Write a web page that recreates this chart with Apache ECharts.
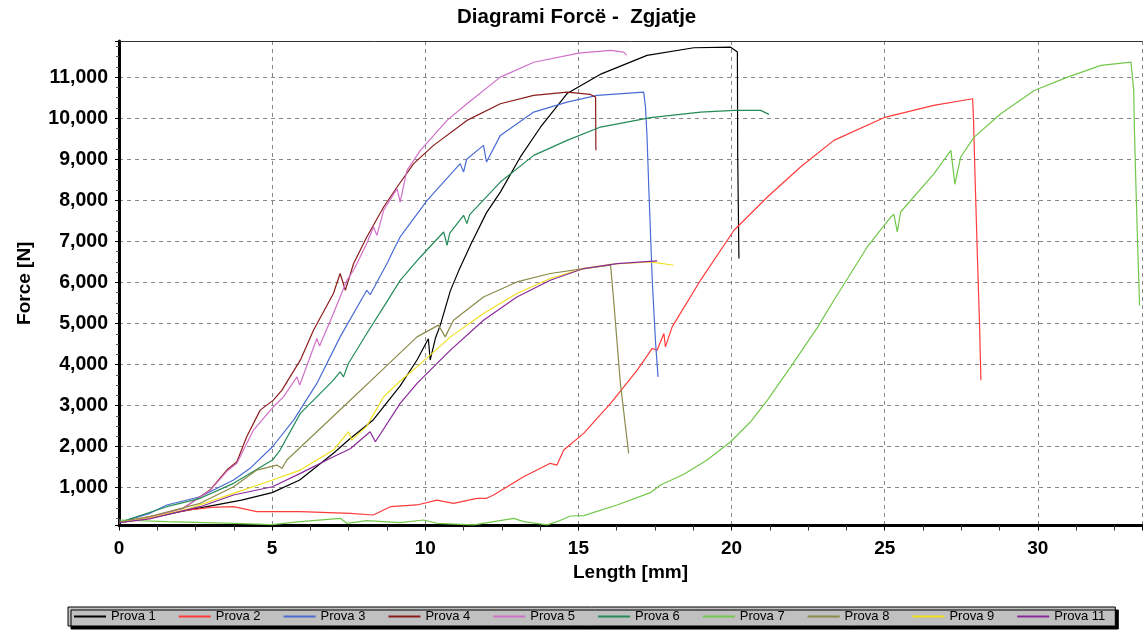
<!DOCTYPE html>
<html><head><meta charset="utf-8">
<script src="https://cdn.jsdelivr.net/npm/echarts@6/dist/echarts.min.js"></script>
<style>html,body{margin:0;padding:0;background:#fff}#c{width:1143px;height:631px}</style>
</head><body><div id="c"></div>
<script>
const seriesNames = ['Prova 1','Prova 2','Prova 3','Prova 4','Prova 5','Prova 6','Prova 7','Prova 8','Prova 9','Prova 11'];
const seriesColors = ['#000000','#ff3b3b','#4a6cd4','#8b1c1c','#d070c8','#238b57','#72c84a','#8b8b4a','#f0e020','#8a2a9a'];

const prova1 = [[0,150],[1,260],[2,420],[3,560],[4,700],[5,880],[5.9,1190],[7.0,1840],[7.55,2200],[8.3,2650],[9.18,3480],[9.73,4110],[10.1,4630],[10.16,4110],[10.33,4640],[10.49,4960],[10.82,5800],[11.1,6300],[11.5,6950],[12.0,7700],[12.45,8200],[13.1,9050],[13.76,9780],[14.63,10600],[15.75,11080],[17.24,11530],[18.77,11715],[19.97,11730],[20.19,11610],[20.2,9100],[20.24,6580]];
const prova2 = [[0,150],[1,295],[2.3,457],[3.0,520],[3.74,540],[4.5,420],[5.92,416],[7.55,377],[8.3,336],[8.86,538],[9.73,580],[10.38,700],[10.92,620],[11.69,742],[12.0,742],[12.05,700],[12.23,822],[13.21,1268],[14.08,1594],[14.3,1552],[14.52,1917],[15.17,2323],[16.05,3054],[16.92,3864],[17.41,4392],[17.57,4350],[17.79,4757],[17.84,4430],[18.06,4917],[19.0,6070],[20.08,7270],[21.17,8080],[22.25,8810],[23.34,9460],[24.97,10012],[26.6,10311],[27.87,10474],[27.9,9946],[27.94,8810],[28.03,6540],[28.1,4878],[28.14,3620]];
const prova3 = [[0,150],[1.01,377],[1.56,580],[2.65,781],[3.74,1187],[4.28,1472],[5.01,1998],[5.7,2647],[6.46,3540],[7.22,4674],[8.09,5810],[8.2,5700],[8.75,6460],[8.96,6783],[9.18,7107],[10.06,8000],[11.14,8893],[11.25,8689],[11.35,9000],[11.9,9338],[12.0,8932],[12.45,9581],[13.54,10148],[14.63,10392],[15.61,10555],[17.13,10635],[17.19,10270],[17.24,9540],[17.3,8243],[17.41,6053],[17.52,4513],[17.6,3700]];
const prova4 = [[0,150],[1,280],[2.1,500],[2.97,944],[3.52,1430],[3.85,1633],[4.17,2241],[4.61,2890],[5.04,3134],[5.32,3377],[5.92,4107],[6.35,4837],[7.0,5730],[7.22,6217],[7.39,5810],[7.66,6460],[8.09,7107],[8.64,7837],[9.08,8324],[9.62,8893],[10.27,9338],[11.36,9946],[12.45,10352],[13.54,10555],[14.63,10635],[15.39,10579],[15.56,10513],[15.57,9217]];
const prova5 = [[0,150],[1,270],[2.1,500],[2.97,930],[3.52,1400],[3.85,1594],[4.39,2404],[5.04,2971],[5.37,3214],[5.81,3700],[5.9,3500],[6.46,4635],[6.55,4450],[7.0,5243],[7.44,6053],[7.66,6297],[8.09,6946],[8.31,7350],[8.42,7148],[8.64,7757],[9.08,8284],[9.18,7958],[9.4,8730],[9.84,9217],[10.71,9946],[11.36,10352],[12.45,11000],[13.54,11362],[15.01,11584],[16.05,11650],[16.48,11610],[16.57,11529]];
const prova6 = [[0,150],[1.56,538],[2.65,742],[3.74,1107],[5.01,1674],[5.26,1917],[5.92,2810],[6.46,3214],[7.0,3620],[7.22,3822],[7.33,3700],[7.49,4027],[8.09,4757],[8.64,5404],[9.18,6050],[9.84,6620],[10.6,7229],[10.71,6905],[10.8,7200],[11.25,7635],[11.36,7432],[11.45,7650],[12.45,8445],[13.54,9095],[14.63,9460],[15.72,9784],[17.35,10012],[18.99,10148],[20.08,10190],[20.95,10190],[21.22,10092]];
const prova7 = [[0,214],[1.56,173],[3.74,134],[5.01,100],[5.92,173],[7.22,255],[7.44,134],[8.09,197],[8.64,173],[9.18,150],[9.95,214],[10.38,134],[11.58,95],[12.89,255],[13.21,173],[13.98,95],[14.3,173],[14.74,311],[15.17,319],[16.26,579],[17.35,880],[17.68,1066],[18.44,1330],[19.2,1674],[19.97,2119],[20.62,2606],[21.17,3134],[21.93,3944],[22.8,4900],[23.34,5567],[24.43,6864],[25.2,7594],[25.3,7660],[25.41,7229],[25.52,7715],[26.61,8650],[27.16,9217],[27.29,8390],[27.48,9054],[27.92,9540],[28.79,10109],[29.88,10676],[30.97,11000],[32.06,11285],[33.04,11365],[33.13,10676],[33.15,9784],[33.2,8406],[33.26,6864],[33.29,6175],[33.32,5440]];
const prova8 = [[0,150],[1,300],[2.65,620],[3.74,1024],[4.5,1430],[5.15,1552],[5.32,1472],[5.48,1674],[7.55,3130],[8.64,3900],[9.73,4674],[10.43,4960],[10.65,4674],[10.92,5080],[11.9,5647],[12.99,6012],[14.08,6217],[15.17,6338],[16.05,6418],[16.15,5567],[16.37,3540],[16.64,1837]];
const prova9 = [[0,150],[1,260],[2.32,500],[3.74,864],[5.01,1187],[5.92,1430],[7.0,1917],[7.49,2363],[7.6,2160],[8.09,2500],[8.64,3214],[9.18,3600],[9.73,3944],[10.82,4674],[11.9,5243],[12.99,5730],[14.08,6095],[15.17,6338],[16.05,6443],[17.35,6500],[18.11,6418]];
const prova11 = [[0,150],[1,240],[2.65,538],[3.74,822],[5.01,1024],[5.92,1350],[7.0,1755],[7.55,1950],[8.2,2363],[8.37,2119],[9.18,3054],[9.73,3540],[10.82,4350],[11.9,5080],[12.99,5647],[14.08,6053],[15.17,6338],[16.26,6460],[17.57,6523]];

const allData = [prova1,prova2,prova3,prova4,prova5,prova6,prova7,prova8,prova9,prova11];

const FONT = '"Liberation Sans", Arial, sans-serif';
const chart = echarts.init(document.getElementById('c'), null, {renderer:'canvas'});
chart.setOption({
  animation:false,
  backgroundColor:'#ffffff',
  title:{text:'Diagrami Forcë -  Zgjatje', left:457, top:7, padding:0,
    textStyle:{fontFamily:FONT, fontSize:20.5, fontWeight:'bold', color:'#000'}},
  grid:{left:119, right:1, top:41, bottom:105.5, containLabel:false},
  legend:{
    left:68, top:607, orient:'horizontal', icon:'rect', itemWidth:32, itemHeight:2, itemGap:23,
    padding:[3,10,3,6], backgroundColor:'#c0c0c0', borderColor:'#000', borderWidth:1,
    shadowColor:'#000', shadowOffsetX:3, shadowOffsetY:3, shadowBlur:0,
    textStyle:{fontSize:13, color:'#000', fontFamily:FONT},
    data:seriesNames
  },
  xAxis:[{
    type:'value', min:0, max:33.4, interval:5,
    axisLine:{show:true, onZero:false, lineStyle:{color:'#000', width:3}},
    axisTick:{show:true, length:5, lineStyle:{color:'#000'}},
    minorTick:{show:true, splitNumber:4, length:5, lineStyle:{color:'#333'}},
    axisLabel:{showMaxLabel:false, margin:14, fontFamily:FONT, fontSize:19, fontWeight:'bold', color:'#000'},
    splitLine:{show:true, lineStyle:{color:'#888', type:[4,4], width:1}},
    name:'Length [mm]', nameLocation:'middle', nameGap:37,
    nameTextStyle:{fontFamily:FONT, fontSize:19, fontWeight:'bold', color:'#000'}
  },{
    type:'value', position:'top', min:0, max:33.4,
    axisLine:{show:true, lineStyle:{color:'#333', width:1}},
    axisTick:{show:false}, axisLabel:{show:false}, splitLine:{show:false}
  }],
  yAxis:{
    type:'value', min:80, max:11880, minInterval:1000, maxInterval:1000, splitNumber:12,
    axisLine:{show:true, onZero:false, lineStyle:{color:'#000', width:3}},
    axisTick:{show:true, length:4, lineStyle:{color:'#000'}},
    minorTick:{show:true, splitNumber:4, length:3, lineStyle:{color:'#555'}},
    axisLabel:{showMinLabel:false, showMaxLabel:false, margin:11, fontFamily:FONT, fontSize:19.5, fontWeight:'bold', color:'#000',
      formatter:function(v){return v.toLocaleString('en-US');}},
    splitLine:{show:true, lineStyle:{color:'#888', type:[4,4], width:1}},
    name:'Force [N]', nameLocation:'middle', nameGap:85,
    nameTextStyle:{fontFamily:FONT, fontSize:19, fontWeight:'bold', color:'#000'}
  },
  series: seriesNames.map(function(n,i){
    return {name:n, type:'line', xAxisIndex:0, data:allData[i], showSymbol:false, symbol:'none',
      lineStyle:{color:seriesColors[i], width:1.2}, itemStyle:{color:seriesColors[i]}, z:2+i};
  })
});
</script></body></html>
